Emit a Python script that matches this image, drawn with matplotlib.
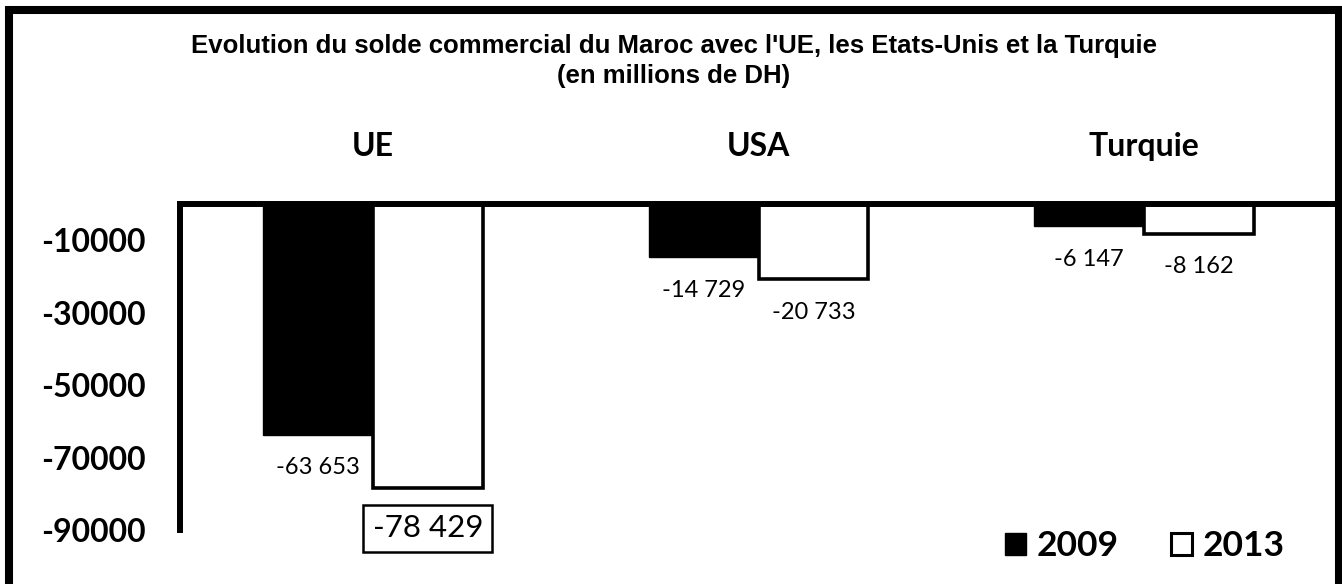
import matplotlib
matplotlib.use("Agg")
import matplotlib.pyplot as plt
from matplotlib.patches import Patch, Rectangle

# Données (millions de DH)
zones = ["UE", "USA", "Turquie"]
solde_2009 = [-63653, -14729, -6147]
solde_2013 = [-78429, -20733, -8162]
etiq_2009 = ["-63 653", "-14 729", "-6 147"]
etiq_2013 = ["-78 429", "-20 733", "-8 162"]
graduations = [-10000, -30000, -50000, -70000, -90000]
titre = ["Evolution du solde commercial du Maroc avec l'UE, les Etats-Unis et la Turquie",
         "(en millions de DH)"]

W, H = 1342, 584
fig = plt.figure(figsize=(W / 100, H / 100), dpi=100)
ax = fig.add_axes([180 / W, 1 - 530 / H, 1157 / W, 326 / H])

x = list(range(len(zones)))
larg = 0.285

ax.bar([i - larg / 2 for i in x], solde_2009, width=larg, color="black", edgecolor="black", linewidth=1)
ax.bar([i + larg / 2 for i in x], solde_2013, width=larg, color="white", edgecolor="black", linewidth=2.6)

ax.set_xlim(-0.5, 2.5)
ax.set_ylim(-90000, 0)

# axes : ligne du haut (zéro) et ligne de gauche seulement
for cote in ["right", "bottom"]:
    ax.spines[cote].set_visible(False)
for cote in ["top", "left"]:
    ax.spines[cote].set_linewidth(4.3)
ax.set_xticks([])
ax.set_yticks(graduations)
ax.set_yticklabels([str(g) for g in graduations], fontfamily="Lato", fontweight="bold", fontsize=23)
ax.tick_params(axis="y", length=0, pad=25)

# noms des zones au-dessus de la ligne zéro
for i, nom in zip(x, zones):
    ax.text(i, 1.175, nom, transform=ax.get_xaxis_transform(), ha="center", va="center",
            fontfamily="Lato", fontweight="bold", fontsize=23)

# étiquettes de valeurs sous les barres
for i, v, t in zip(x, solde_2009, etiq_2009):
    ax.annotate(t, (i - larg / 2, v), xytext=(0, -24), textcoords="offset points",
                ha="center", va="center", fontfamily="Lato", fontsize=17)
for i, v, t in zip(x, solde_2013, etiq_2013):
    if v == min(solde_2013):
        ax.annotate(t, (i + larg / 2, v), xytext=(0, -29), textcoords="offset points",
                    ha="center", va="center", fontfamily="Lato", fontsize=22.5,
                    bbox=dict(boxstyle="square,pad=0.3", fc="white", ec="black", lw=1.8))
    else:
        ax.annotate(t, (i + larg / 2, v), xytext=(0, -24), textcoords="offset points",
                    ha="center", va="center", fontfamily="Lato", fontsize=17)

# titre
fig.text(674 / W, 1 - 46 / H, titre[0], ha="center", va="center",
         fontfamily="Liberation Sans", fontweight="bold", fontsize=18.5)
fig.text(674 / W, 1 - 76 / H, titre[1], ha="center", va="center",
         fontfamily="Liberation Sans", fontweight="bold", fontsize=18.5)

# légende
poignees = [Patch(facecolor="black", edgecolor="black", label="2009"),
            Patch(facecolor="white", edgecolor="black", linewidth=2.2, label="2013")]
leg = fig.legend(handles=poignees, loc="lower right", bbox_to_anchor=(1302 / W, 1 - 580 / H),
                 ncol=2, frameon=False, borderpad=0, handlelength=0.57, handleheight=0.57,
                 handletextpad=0.3, columnspacing=1.5,
                 prop={"family": "Lato", "weight": "bold", "size": 25.5})

# cadre noir autour de la figure
fig.patches.append(Rectangle((9 / W, -3 / H), (1338.5 - 9) / W, (586 - 9) / H,
                             transform=fig.transFigure, fill=False, edgecolor="black",
                             linewidth=5.8, clip_on=False))

fig.savefig("out.png", dpi=100)
